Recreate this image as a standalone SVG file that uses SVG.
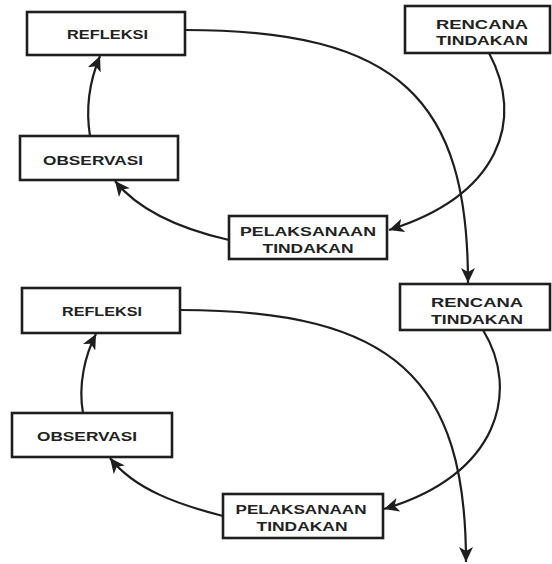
<svg xmlns="http://www.w3.org/2000/svg" width="552" height="564" viewBox="0 0 552 564">
<style>
.box{fill:#fff;stroke:#1e1e1e;stroke-width:2.6}
.lbl{font-family:"Liberation Sans",Arial,sans-serif;font-weight:bold;font-size:12px;fill:#222;text-anchor:middle}
.con{fill:none;stroke:#1e1e1e;stroke-width:2.2}
</style>
<defs>
<marker id="ah" markerUnits="userSpaceOnUse" markerWidth="16" markerHeight="14" refX="15" refY="7" orient="auto">
<path d="M0,0 L15,7 L0,14 L4,7 z" fill="#1e1e1e"/>
</marker>
</defs>
<rect width="552" height="564" fill="#fff"/>
<g id="connectors">
<path class="con" d="M185,30 C400,30 468,100 468,283" marker-end="url(#ah)"/>
<path class="con" d="M489,53 C525,120 500,195 389,230" marker-end="url(#ah)"/>
<path class="con" d="M229,240 C185,230 140,212 115,181" marker-end="url(#ah)"/>
<path class="con" d="M90,136 C85,105 90,80 100,56" marker-end="url(#ah)"/>
<path class="con" d="M180,310 C395,310 466,380 466,562" marker-end="url(#ah)"/>
<path class="con" d="M483,330 C520,390 500,475 384,509" marker-end="url(#ah)"/>
<path class="con" d="M223,516 C180,505 135,490 110,458" marker-end="url(#ah)"/>
<path class="con" d="M83,413 C78,385 85,355 96,334" marker-end="url(#ah)"/>
</g>
<g id="refleksi1"><rect class="box" x="27" y="12" width="158" height="43"/><text class="lbl" x="107.5" y="39" textLength="81" lengthAdjust="spacingAndGlyphs">REFLEKSI</text></g>
<g id="observasi1"><rect class="box" x="20" y="136" width="158" height="44"/><text class="lbl" x="93" y="165" textLength="100" lengthAdjust="spacingAndGlyphs">OBSERVASI</text></g>
<g id="pelaksanaan1"><rect class="box" x="229" y="216" width="158" height="43"/><text class="lbl" x="308" y="236" textLength="136" lengthAdjust="spacingAndGlyphs">PELAKSANAAN</text><text class="lbl" x="308" y="253" textLength="91" lengthAdjust="spacingAndGlyphs">TINDAKAN</text></g>
<g id="rencana1"><rect class="box" x="405" y="6" width="145" height="47"/><text class="lbl" x="482" y="29" textLength="92" lengthAdjust="spacingAndGlyphs">RENCANA</text><text class="lbl" x="482" y="45" textLength="92" lengthAdjust="spacingAndGlyphs">TINDAKAN</text></g>
<g id="rencana2"><rect class="box" x="400" y="284" width="150" height="46"/><text class="lbl" x="477" y="307" textLength="92" lengthAdjust="spacingAndGlyphs">RENCANA</text><text class="lbl" x="477" y="324" textLength="92" lengthAdjust="spacingAndGlyphs">TINDAKAN</text></g>
<g id="refleksi2"><rect class="box" x="22" y="288" width="158" height="45"/><text class="lbl" x="102" y="316" textLength="80" lengthAdjust="spacingAndGlyphs">REFLEKSI</text></g>
<g id="observasi2"><rect class="box" x="12" y="413" width="160" height="44"/><text class="lbl" x="87" y="441" textLength="100" lengthAdjust="spacingAndGlyphs">OBSERVASI</text></g>
<g id="pelaksanaan2"><rect class="box" x="223" y="494" width="160" height="44"/><text class="lbl" x="301" y="514" textLength="131" lengthAdjust="spacingAndGlyphs">PELAKSANAAN</text><text class="lbl" x="302" y="531" textLength="91" lengthAdjust="spacingAndGlyphs">TINDAKAN</text></g>
</svg>
